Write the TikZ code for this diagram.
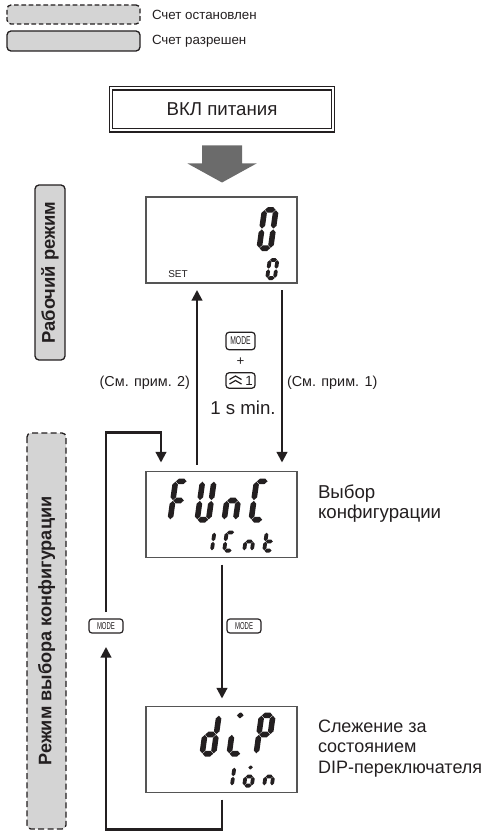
\documentclass[tikz,border=0pt]{standalone}
\usepackage{fontspec}
\setmainfont{Liberation Sans}
\newfontfamily\narrowfont[FakeStretch=0.6]{Liberation Sans}
\usetikzlibrary{arrows.meta,calc}
\definecolor{ink}{HTML}{231F20}
\definecolor{boxgray}{HTML}{D4D4D4}
\definecolor{bigarr}{HTML}{6B6B6B}
\definecolor{frame}{HTML}{555555}
\newcommand\hsg[3]{\fill[ink] (#2,#1) -- (#2+\sT/2,#1+\sT/2) -- (#3-\sT/2,#1+\sT/2) -- (#3,#1) -- (#3-\sT/2,#1-\sT/2) -- (#2+\sT/2,#1-\sT/2) -- cycle;}
\newcommand\vsg[3]{\fill[ink] (#1,#2) -- (#1+\sT/2,#2+\sT/2) -- (#1+\sT/2,#3-\sT/2) -- (#1,#3) -- (#1-\sT/2,#3-\sT/2) -- (#1-\sT/2,#2+\sT/2) -- cycle;}
\def\sega{\hsg{\sH-\sT/2}{\sT/2+\sG}{\sW-\sT/2-\sG}}
\def\segg{\hsg{\sH/2}{\sT/2+\sG}{\sW-\sT/2-\sG}}
\def\segd{\hsg{\sT/2}{\sT/2+\sG}{\sW-\sT/2-\sG}}
\def\segf{\vsg{\sT/2}{\sH/2+\sG}{\sH-\sT/2-\sG}}
\def\sege{\vsg{\sT/2}{\sT/2+\sG}{\sH/2-\sG}}
\def\segb{\vsg{\sW-\sT/2}{\sH/2+\sG}{\sH-\sT/2-\sG}}
\def\segc{\vsg{\sW-\sT/2}{\sT/2+\sG}{\sH/2-\sG}}
\def\segm{\hsg{\sH-\sT/2}{0.3*\sW}{0.7*\sW}}
\newcommand\sevdig[5]{%
  \begin{scope}[shift={([shift={(#2,#3)}]#1.north west)}, x={(0.75pt,0pt)}, y={(0.105pt,0.75pt)}, #4]
    \foreach \s in {#5}{\csname seg\s\endcsname}
  \end{scope}}
\begin{document}
\begin{tikzpicture}[x=0.75pt,y=-0.75pt,
  bigdig/.code={\def\sW{17}\def\sH{44}\def\sT{5.6}\def\sG{0.4}},
  smalldig/.code={\def\sW{11.5}\def\sH{22}\def\sT{3.8}\def\sG{0.3}},
  conn/.style={draw=ink, line width=1.6pt},
  arr/.style={conn, -{Triangle[length=8pt,width=8pt]}},
  lcd/.style={draw=frame, line width=0.8pt, minimum width=113.25pt, minimum height=64.5pt, inner sep=0pt, outer sep=0pt},
  keybox/.style={draw=ink, line width=0.9pt, rounded corners=2.2pt, inner sep=0pt, outer sep=0pt, text=ink},
  modebox/.style={draw=ink, line width=1pt, rounded corners=3pt, fill=boxgray, inner sep=0pt, outer sep=0pt},
  txt/.style={text=ink, inner sep=0pt, outer sep=0pt}]
\useasboundingbox (0,0) rectangle (485,831);

% legend
\node[modebox, dashed, dash pattern=on 3.5pt off 2pt, minimum width=99.75pt, minimum height=14.25pt] (legD) at (73.5,14.5) {};
\node[modebox, minimum width=99.75pt, minimum height=15pt] (legS) at (73.5,41) {};
\node[txt, anchor=west, font=\fontsize{10}{12}\selectfont] (legDt) at (152,15) {Счет остановлен};
\node[txt, anchor=west, font=\fontsize{10}{12}\selectfont] (legSt) at (152,41) {Счет разрешен};

% power on box
\node[draw=ink, line width=0.8pt, double, double distance=1.5pt, minimum width=166pt, minimum height=31.5pt, inner sep=0pt, outer sep=0pt, text=ink, font=\fontsize{14}{16}\selectfont] (pwr) at (222,109.5) {ВКЛ питания};
\fill[bigarr] ([shift={(-20,15)}]pwr.south) -- ++(40,0) -- ++(0,18) -- ++(14.5,0) -- ++(-34.5,19) -- ++(-34.5,-19) -- ++(14.5,0) -- cycle;

% mode labels
\node[modebox, rotate=90, minimum width=131.25pt, minimum height=22.5pt, text=ink, font=\bfseries\fontsize{13.8}{15}\selectfont] (runmode) at (50,272.5) {Рабочий режим};
\node[modebox, dashed, dash pattern=on 4.5pt off 2.5pt, rotate=90, minimum width=297pt, minimum height=29.25pt, text=ink, font=\bfseries\fontsize{13.6}{15}\selectfont] (cfgmode) at (46.5,631) {Режим выбора конфигурации};

% displays
\node[lcd] (d1) at (221.5,240) {};
\node[lcd] (func) at (221.5,514.5) {};
\node[lcd] (dip) at (221.5,749.5) {};

% display 1 contents
\sevdig{d1}{110}{54}{bigdig}{a,b,c,d,e,f}
\sevdig{d1}{119}{83}{smalldig}{a,b,c,d,e,f}
\node[txt, font=\fontsize{7.5}{9}\selectfont] (setlbl) at ([shift={(32,-9)}]d1.south west) {SET};

% FUnC display
\sevdig{func}{21}{51}{bigdig}{a,f,e,g}
\sevdig{func}{48}{51}{bigdig}{f,e,d,c,b}
\sevdig{func}{75}{51}{bigdig}{e,g,c}
\sevdig{func}{102}{51}{bigdig}{a,f,e,d}
\sevdig{func}{56}{81}{smalldig}{b,c}
\sevdig{func}{76}{81}{smalldig}{a,f,e,d}
\sevdig{func}{96}{81}{smalldig}{e,g,c}
\sevdig{func}{116}{81}{smalldig}{f,g,e,d}

% dIP display
\sevdig{dip}{53}{50}{bigdig}{b,c,d,e,g}
\sevdig{dip}{80}{50}{bigdig}{m,e,d}
\sevdig{dip}{107}{50}{bigdig}{a,b,f,g,e}
\sevdig{dip}{76}{81}{smalldig}{b,c}
\sevdig{dip}{96}{81}{smalldig}{m,g,c,d,e}
\sevdig{dip}{116}{81}{smalldig}{e,g,c}

% keys between display 1 and FUnC
\node[keybox, minimum width=21.75pt, minimum height=13pt, font=\narrowfont\fontsize{8.5}{9}\selectfont] (keyM) at (240.5,341) {MODE};
\node[txt, font=\fontsize{10}{12}\selectfont] (plus) at (240.5,362) {+};
\node[keybox, minimum width=21.75pt, minimum height=11.5pt, font=\fontsize{10}{11}\selectfont] (keyU) at (240.5,380.5) {\makebox[18.5pt][r]{1}};
\draw[ink, line width=0.9pt] ([shift={(3.5,-1)}]keyU.west) -- ++(6,-3.5) -- ++(6,3.5);
\draw[ink, line width=0.9pt] ([shift={(3.5,3.5)}]keyU.west) -- ++(6,-3.5) -- ++(6,3.5);
\node[txt, font=\fontsize{14}{16}\selectfont] (onesec) at (243,408) {1 s min.};
\node[txt, anchor=east, font=\fontsize{10.8}{13}\selectfont] (note2) at (190,383) {(См. прим. 2)};
\node[txt, anchor=west, font=\fontsize{10.8}{13}\selectfont] (note1) at (287,383) {(См. прим. 1)};

% side descriptions
\node[txt, anchor=west, align=left, font=\fontsize{14}{15}\selectfont] (funcdesc) at (318,504) {Выбор\\конфигурации};
\node[txt, anchor=west, align=left, font=\fontsize{13.5}{15.4}\selectfont] (dipdesc) at (318,748.5) {Слежение за\\состоянием\\DIP-переключателя};

% MODE keys in config loop
\node[keybox, minimum width=25.5pt, minimum height=10.5pt, font=\narrowfont\fontsize{7.5}{8}\selectfont] (modeL) at (106,626) {MODE};
\node[keybox, minimum width=25.5pt, minimum height=10.5pt, font=\narrowfont\fontsize{7.5}{8}\selectfont] (modeR) at (244,626) {MODE};

% connectors
\draw[arr] ([shift={(136,7)}]d1.south west) -- ([shift={(136,-9)}]func.north west);
\draw[arr] ([shift={(51,-7)}]func.north west) -- ([shift={(51,7)}]d1.south west);
\draw[arr] ([shift={(76,7)}]func.south west) -- ([shift={(76,-8)}]dip.north west);
\draw[arr] ([shift={(76,7)}]dip.south west) -- ++(0,30) -| ([shift={(0,14)}]modeL.south);
\coordinate (loopTR) at ([shift={(15,-39)}]func.north west);
\draw[arr] ([shift={(0,-7)}]modeL.north) |- (loopTR) -- ([shift={(15,-9)}]func.north west);
\end{tikzpicture}
\end{document}
